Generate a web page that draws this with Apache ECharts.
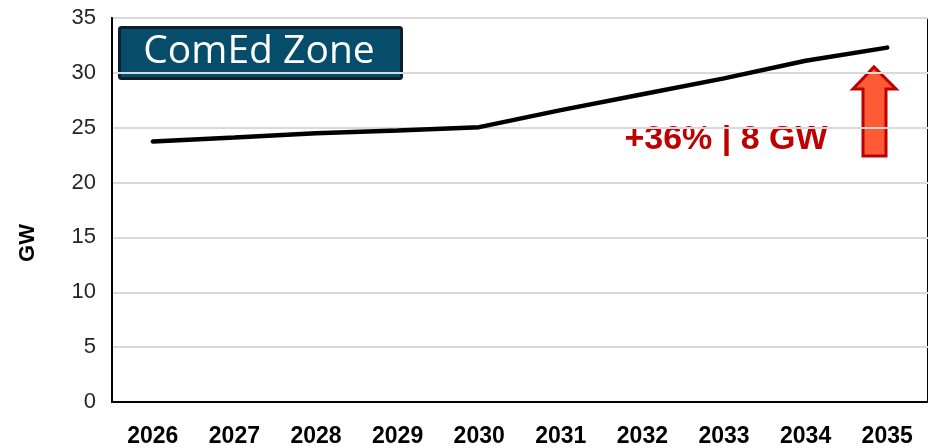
<!DOCTYPE html>
<html>
<head>
<meta charset="utf-8">
<script src="https://cdn.jsdelivr.net/npm/echarts@6/dist/echarts.min.js"></script>
<style>
  html, body { margin: 0; padding: 0; background: #fff; }
  #chart { width: 928px; height: 448px; }
</style>
</head>
<body>
<div id="chart"></div>
<script>
// data
const years = ['2026', '2027', '2028', '2029', '2030', '2031', '2032', '2033', '2034', '2035']
const loadGW = [23.75, 24.1, 24.5, 24.75, 25.05, 26.6, 28.05, 29.5, 31.1, 32.3]
const yTicks = [0, 5, 10, 15, 20, 25, 30, 35]
const zoneName = 'ComEd Zone'
const growthLabel = '+36% | 8 GW'

const chart = echarts.init(document.getElementById('chart'))

chart.setOption({
  animation: false,
  textStyle: { fontFamily: 'Liberation Sans, Arial, sans-serif' },
  grid: {
    left: 112,
    top: 18,
    width: 821,
    height: 385,
    show: true,
    borderColor: '#000',
    borderWidth: 2
  },
  xAxis: {
    type: 'category',
    data: years,
    boundaryGap: true,
    axisLine: { lineStyle: { color: '#000', width: 2 } },
    axisTick: { show: false },
    axisLabel: {
      margin: 23,
      fontSize: 23,
      fontWeight: 'bold',
      color: '#000'
    }
  },
  yAxis: {
    type: 'value',
    min: yTicks[0],
    max: yTicks[yTicks.length - 1],
    interval: 5,
    axisLine: { show: true, lineStyle: { color: '#000', width: 2 } },
    axisTick: { show: false },
    axisLabel: { margin: 16, fontSize: 22, color: '#262626' },
    splitLine: { lineStyle: { color: '#d9d9d9', width: 2 } }
  },
  series: [{
    name: 'GW',
    type: 'line',
    data: loadGW,
    showSymbol: false,
    symbol: 'none',
    lineStyle: { color: '#000', width: 4.5, cap: 'round' }
  }],
  graphic: [
    {
      type: 'text',
      x: 28,
      y: 243,
      rotation: Math.PI / 2,
      style: {
        text: 'GW',
        fill: '#000',
        fontSize: 22,
        fontWeight: 'bold',
        fontFamily: 'Liberation Sans, Arial, sans-serif',
        align: 'center',
        verticalAlign: 'middle'
      }
    },
    {
      type: 'rect',
      left: 118,
      top: 26,
      shape: { width: 282, height: 51, r: 2 },
      style: { fill: '#064d6b', stroke: '#0b1f2e', lineWidth: 3 }
    },
    {
      type: 'text',
      x: 259,
      y: 52,
      style: {
        text: zoneName,
        fill: '#fff',
        fontSize: 39,
        fontFamily: 'Open Sans, sans-serif',
        align: 'center',
        verticalAlign: 'middle'
      }
    },
    {
      type: 'text',
      x: 726,
      y: 140,
      style: {
        text: growthLabel,
        fill: '#c00000',
        fontSize: 34,
        fontWeight: 'bold',
        fontFamily: 'Liberation Sans, Arial, sans-serif',
        align: 'center',
        verticalAlign: 'middle'
      }
    },
    {
      type: 'polygon',
      shape: {
        points: [[863, 156], [863, 89], [853, 89], [874, 67], [896, 89], [886, 89], [886, 156]]
      },
      style: { fill: '#ff5a36', stroke: '#c00000', lineWidth: 3 }
    }
  ]
})
</script>
</body>
</html>
